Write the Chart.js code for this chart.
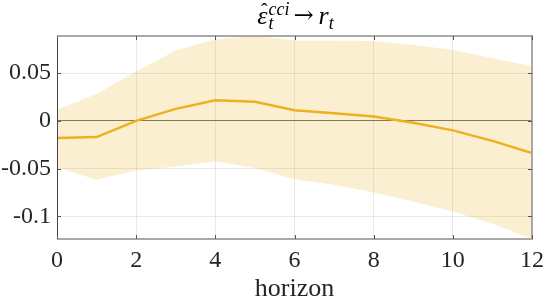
<!DOCTYPE html>
<html>
<head>
<meta charset="utf-8">
<script src="https://cdn.jsdelivr.net/npm/chart.js@4.4.1/dist/chart.umd.min.js"></script>
<style>
  html, body { margin: 0; padding: 0; background: #fff; }
  #wrap { width: 545px; height: 300px; }
</style>
</head>
<body>
<div id="wrap"><canvas id="myChart" width="545" height="300"></canvas></div>
<script>
// impulse response, values
const horizon = [0, 1, 2, 3, 4, 5, 6, 7, 8, 9, 10, 11, 12];
const irf   = [-0.018, -0.017, 0.000, 0.0125, 0.0215, 0.0200, 0.0110, 0.0080, 0.0045, -0.0020, -0.0100, -0.0210, -0.0337];
const upper = [0.0115, 0.0280, 0.0516, 0.0735, 0.0855, 0.0888, 0.0840, 0.0837, 0.0835, 0.0795, 0.0743, 0.0656, 0.0575];
const lower = [-0.0485, -0.0617, -0.0520, -0.0478, -0.0425, -0.0495, -0.0612, -0.0670, -0.0750, -0.0844, -0.0949, -0.1077, -0.1237];
const yTicks = [-0.1, -0.05, 0, 0.05];
const xTicks = [0, 2, 4, 6, 8, 10, 12];

const serif = "'Liberation Serif', 'Times New Roman', serif";
const orange = '#EDB120';

function pts(arr) {
    return horizon.map(function(h, i) { return {x: h, y: arr[i]}; });
}

// title with hat, sub and superscripts, drawn like the latex title
const mathTitle = {
    id: 'mathTitle',
    afterDraw: function(chart) {
        const ctx = chart.ctx;
        const a = chart.chartArea;
        const big = 'italic 26px ' + serif;
        const small = 'italic 18px ' + serif;
        const arrowFont = "24px 'DejaVu Serif', serif";
        const base = 23.5;
        ctx.save();
        ctx.fillStyle = '#000';
        ctx.textBaseline = 'alphabetic';
        ctx.textAlign = 'left';
        ctx.font = big; const wE = ctx.measureText('\u03b5').width;
        const wR = ctx.measureText('r').width;
        ctx.font = small; const wS = Math.max(ctx.measureText('cci').width, ctx.measureText('t').width);
        const wT = ctx.measureText('t').width;
        ctx.font = arrowFont; const wA = ctx.measureText('\u2192').width;
        const total = wE + 1 + wS + 4 + wA + 5 + wR + wT;
        let x = (a.left + a.right) / 2 + 1 - total / 2;
        ctx.font = big;
        ctx.fillText('\u03b5', x, base);
        ctx.font = '20px ' + serif;
        ctx.textAlign = 'center';
        ctx.fillText('\u02c6', x + wE / 2 + 2, base - 6);
        ctx.textAlign = 'left';
        x += wE + 1;
        ctx.font = small;
        ctx.fillText('cci', x, base - 9);
        ctx.fillText('t', x, base + 5);
        x += wS + 4;
        ctx.font = arrowFont;
        ctx.fillText('\u2192', x, base - 1);
        x += wA + 5;
        ctx.font = big;
        ctx.fillText('r', x, base);
        x += wR;
        ctx.font = small;
        ctx.fillText('t', x, base + 5);
        ctx.restore();
    }
};

// box and inward ticks like matlab
const boxTicks = {
    id: 'boxTicks',
    afterDraw: function(chart) {
        const ctx = chart.ctx;
        const a = chart.chartArea;
        const xs = chart.scales.x, ys = chart.scales.y;
        ctx.save();
        ctx.strokeStyle = '#a8a8a8';
        ctx.lineWidth = 2;
        ctx.beginPath();
        ctx.moveTo(a.left, a.top); ctx.lineTo(a.right, a.top); ctx.lineTo(a.right, a.bottom); ctx.lineTo(a.left, a.bottom);
        ctx.stroke();
        ctx.strokeStyle = '#444';
        ctx.lineWidth = 1;
        ctx.beginPath();
        ctx.moveTo(a.left + 0.5, a.top); ctx.lineTo(a.left + 0.5, a.bottom);
        ctx.stroke();
        ctx.strokeStyle = '#555';
        ctx.beginPath();
        xTicks.forEach(function(v) {
            const px = Math.round(xs.getPixelForValue(v)) + 0.5;
            ctx.moveTo(px, a.bottom); ctx.lineTo(px, a.bottom - 4);
            ctx.moveTo(px, a.top); ctx.lineTo(px, a.top + 4);
        });
        yTicks.forEach(function(v) {
            const py = Math.round(ys.getPixelForValue(v)) + 0.5;
            ctx.moveTo(a.left, py); ctx.lineTo(a.left + 4, py);
            ctx.moveTo(a.right, py); ctx.lineTo(a.right - 4, py);
        });
        ctx.stroke();
        ctx.restore();
    }
};

function renderChart() {
    var ctx = document.getElementById('myChart').getContext('2d');
    var myChart = new Chart(ctx, {
        type: 'line',
        data: {
            datasets: [{
                label: 'upper',
                data: pts(upper),
                borderWidth: 0,
                pointRadius: 0,
                backgroundColor: 'rgba(237,177,32,0.2)',
                fill: '+1',
                order: 3
            }, {
                label: 'lower',
                data: pts(lower),
                borderWidth: 0,
                pointRadius: 0,
                fill: false,
                order: 3
            }, {
                label: 'irf',
                data: pts(irf),
                borderColor: orange,
                borderWidth: 2.5,
                pointRadius: 0,
                fill: false,
                tension: 0,
                order: 1
            }]
        },
        options: {
            responsive: false,
            animation: false,
            events: [],
            layout: { padding: { top: 36, right: 0, left: 0, bottom: 0 } },
            plugins: { legend: { display: false }, tooltip: { enabled: false }, title: { display: false } },
            scales: {
                x: {
                    type: 'linear',
                    min: 0, max: 12,
                    afterBuildTicks: function(s) { s.ticks = xTicks.map(function(v) { return {value: v}; }); },
                    afterFit: function(s) { s.height = 61; s.paddingRight = 13; s.paddingLeft = 0; },
                    grid: { color: 'rgba(0,0,0,0.09)', drawTicks: false },
                    border: { display: false },
                    ticks: { padding: 7, color: '#262626', font: { family: serif, size: 24 }, maxRotation: 0 },
                    title: { display: true, text: 'horizon', color: '#262626', font: { family: serif, size: 26 }, padding: { top: 0, bottom: -5 } }
                },
                y: {
                    min: -0.1237, max: 0.0888,
                    afterBuildTicks: function(s) { s.ticks = yTicks.map(function(v) { return {value: v}; }); },
                    afterFit: function(s) { s.width = 57; s.paddingTop = 0; s.paddingBottom = 0; },
                    grid: {
                        drawTicks: false,
                        color: function(c) { return c.tick && c.tick.value === 0 ? 'rgba(60,60,50,0.75)' : 'rgba(0,0,0,0.09)'; }
                    },
                    border: { display: false },
                    ticks: {
                        padding: 6, color: '#262626', font: { family: serif, size: 24 },
                        callback: function(v) { return String(v); }
                    }
                }
            }
        },
        plugins: [boxTicks, mathTitle]
    });
    return myChart;
}

renderChart();
</script>
</body>
</html>
